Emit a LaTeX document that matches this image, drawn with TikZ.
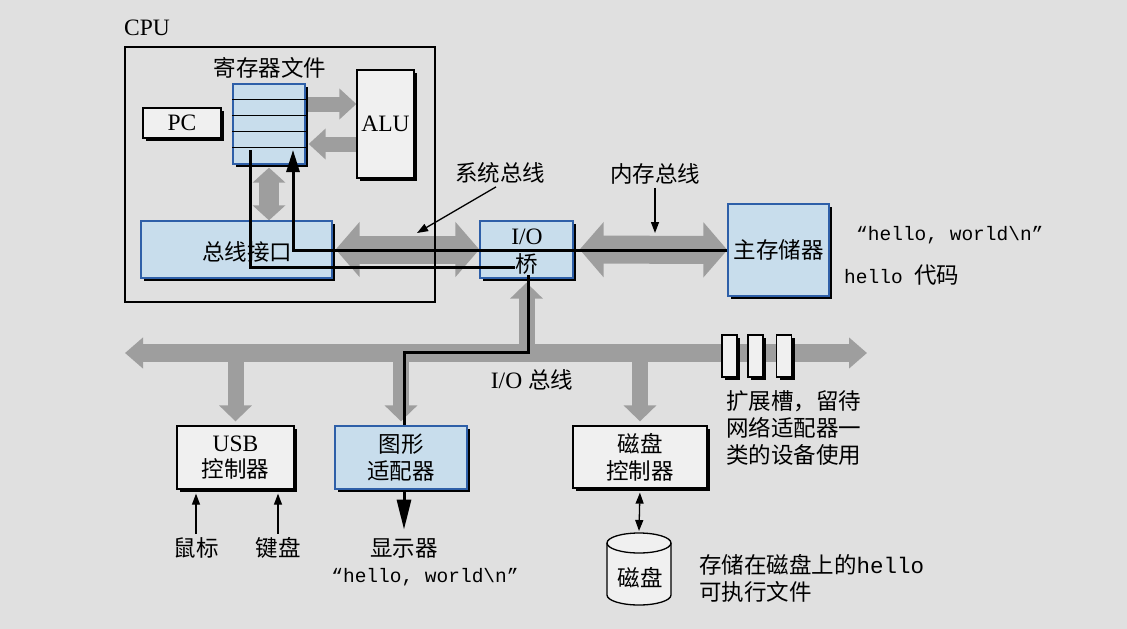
\documentclass[tikz,border=0pt]{standalone}
\usepackage{fontspec}
\setmainfont{Liberation Serif}
\setmonofont{Liberation Mono}
\newfontfamily\cjk{Noto Sans CJK SC}
\usetikzlibrary{arrows.meta,
	positioning,
	shadows}

\definecolor{paper}{RGB}{224,224,224}
\definecolor{boxblue}{RGB}{200,221,236}
\definecolor{lineblue}{RGB}{46,95,168}
\definecolor{busgray}{RGB}{158,158,158}
\definecolor{boxwhite}{RGB}{240,240,240}

\pgfdeclarelayer{paperlayer}
\pgfdeclarelayer{buslayer}
\pgfdeclarelayer{front}
\pgfsetlayers{paperlayer,buslayer,main,front}

\tikzset{
	cn/.style={font=\fontsize{22.5}{27}\selectfont\cjk},
	en/.style={font=\fontsize{23.5}{26}\selectfont},
	codefont/.style={font=\fontsize{19.5}{26}\selectfont\ttfamily},
	unit/.style={draw=black, line width=1.3pt, fill=boxwhite, align=center,
		drop shadow={shadow xshift=3pt, shadow yshift=-3pt, fill=black, opacity=1}},
	blueunit/.style={unit, draw=lineblue, fill=boxblue},
	regbus/.style={busgray, line width=15pt, arrows={-Triangle[length=17pt,width=30pt]}},
	vbus/.style={busgray, line width=20pt, arrows={Triangle[length=15pt,width=32pt]-Triangle[length=15pt,width=32pt]}},
	bigbus/.style={busgray, line width=28pt, arrows={Triangle[length=24pt,width=54pt]-Triangle[length=24pt,width=54pt]}},
	iobus/.style={busgray, line width=18pt, arrows={Triangle[length=18pt,width=30pt]-Triangle[length=18pt,width=30pt]}},
	dropbus/.style={busgray, line width=16pt, arrows={-Triangle[length=16pt,width=32pt]}},
	wire/.style={line width=3pt},
	pointer/.style={line width=1.3pt, arrows={-Triangle[length=11pt,width=8pt]}}
}

\begin{document}
\begin{tikzpicture}[x=1pt,y=-1pt]
	\begin{pgfonlayer}{paperlayer}
		\fill[paper] (0,0) rectangle (1127,629);
	\end{pgfonlayer}
	\useasboundingbox (0,0) rectangle (1127,629);

	%CPU
	\node[draw, line width=2.2pt, minimum width=310pt, minimum height=255pt] (cpu) at (280,174.5) {};
	\node[en, anchor=west, inner sep=0pt] (cpulabel) at (124,28) {CPU};

	%register file
	\node[cn] (regtitle) at (270,68) {寄存器文件};
	\node[blueunit, minimum width=72pt, minimum height=80pt] (regfile) at (269,124) {};
	\foreach \k in {1,...,4}
		\draw[line width=1pt] ([yshift=-\k*16pt]regfile.north west) -- ([yshift=-\k*16pt]regfile.north east);

	%PC, ALU
	\node[unit, en, minimum width=78pt, minimum height=30pt] (pc) at (182,123) {PC};
	\node[unit, en, minimum width=57pt, minimum height=108pt] (alu) at (385.5,124) {ALU};

	%bus interface
	\node[blueunit, minimum width=191pt, minimum height=57pt] (busif) at (236.5,249.5) {};
	\node[cn] (busiftxt) at (247,252) {总线接口};

	%I/O bridge
	\node[blueunit, minimum width=93pt, minimum height=57pt] (bridge) at (526.5,249.5) {};
	\node[en] (bridgeio) at (527,237) {I/O};

	%main memory
	\node[blueunit, cn, minimum width=101pt, minimum height=92pt] (mem) at (778.5,250) {主存储器};
	\node[codefont, anchor=west, inner sep=0pt] (msgmem) at (856,235) {“hello, world\textbackslash n”};
	\node[codefont, anchor=west, inner sep=0pt] (codemem) at (844,275) {hello {\cjk\fontsize{22.5}{27}\selectfont 代码}};

	%bus labels
	\node[cn] (sysbus) at (500,173) {系统总线};
	\node[cn] (membus) at (655,174) {内存总线};
	\coordinate (sysptr) at (417,233);
	\coordinate (memptr) at (655,233);
	\draw[pointer] ([xshift=-4pt]sysbus.south) -- (sysptr);
	\draw[pointer] (membus.south) -- (memptr);

	%I/O bus
	\coordinate (iol) at (125,353);
	\coordinate (ior) at (867,353);
	\node[en] (iobus) at (532,380) {I/O {\cjk\fontsize{22.5}{27}\selectfont 总线}};

	%slots
	\foreach \x [count=\i] in {729.5,755.5,784}
		\node[unit, minimum width=15pt, minimum height=42pt, inner sep=0pt] (slot\i) at (\x,356) {};
	\node[cn, anchor=north west, align=left, inner sep=0pt] (slotnote) at (726,390) {扩展槽，留待\\网络适配器一\\类的设备使用};

	%controllers
	\node[unit, en, minimum width=117pt, minimum height=63pt] (usb) at (235.5,457.5) {USB\\{\cjk\fontsize{22.5}{27}\selectfont 控制器}};
	\node[unit, cn, minimum width=134pt, minimum height=62pt] (dctl) at (640,457) {磁盘\\控制器};
	\begin{pgfonlayer}{front}
		\node[blueunit, cn, minimum width=132pt, minimum height=63pt] (gfx) at (401,457.5) {图形\\适配器};
		\node[cn, fill=boxblue, inner sep=1pt] (bridgetxt) at (527,264) {桥};
	\end{pgfonlayer}

	%devices
	\node[cn] (mouse) at (196,548) {鼠标};
	\node[cn] (keyb) at (278,548) {键盘};
	\node[cn] (display) at (404,548) {显示器};
	\node[codefont] (msgdisp) at (425,577) {“hello, world\textbackslash n”};
	\draw[pointer, shorten >=4pt] (mouse.north) -- (mouse.north |- usb.south);
	\draw[pointer, shorten >=4pt] (keyb.north) -- (keyb.north |- usb.south);

	%disk
	\draw[line width=1.3pt, fill=boxwhite] (607,543) -- (607,595) arc[start angle=180, end angle=0, x radius=32, y radius=10] -- (671,543);
	\draw[line width=1.3pt, fill=boxwhite] (639,543) ellipse[x radius=32, y radius=10];
	\coordinate (disktop) at (639,531);
	\node[cn] (disk) at (640,578) {磁盘};
	\node[cn, anchor=west, align=left, inner sep=0pt] (diskfile) at (699,578) {存储在磁盘上的{\ttfamily hello}\\可执行文件};
	\draw[pointer, arrows={Triangle[length=11pt,width=8pt]-Triangle[length=11pt,width=8pt]}, shorten <=4pt] (dctl.south) -- (disktop);

	%data paths
	\coordinate (regin) at (293,150);
	\coordinate (regout) at (250,150);
	\draw[wire, -{Triangle[length=22pt,width=13pt]}] (mem.west) -- (regin |- mem.west) -- (regin);
	\draw[wire, -{Triangle[length=30pt,width=14pt]}, shorten >=5pt] (regout) |- (528,267) -- (528,352) -| (display.north);

	%buses
	\begin{pgfonlayer}{buslayer}
		\draw[regbus] ([yshift=20pt]regfile.east) -- ([yshift=20pt]alu.west);
		\draw[regbus, shorten >=3pt] ([yshift=-20pt]alu.west) -- ([yshift=-20pt]regfile.east);
		\draw[vbus, shorten <=3pt] (regfile.south) -- (regfile.south |- busif.north);
		\draw[bigbus, shorten <=3pt] (busif.east) -- (bridge.west);
		\draw[bigbus, shorten <=6pt] (bridge.east) -- (mem.west);
		\draw[iobus] (iol) -- (ior);
		\foreach \n in {usb,gfx,dctl}
			\draw[dropbus, shorten >=4pt] (\n.north |- iol) -- (\n.north);
		\draw[dropbus, shorten >=4pt] (bridge.south |- iol) -- (bridge.south);
	\end{pgfonlayer}
\end{tikzpicture}
\end{document}
